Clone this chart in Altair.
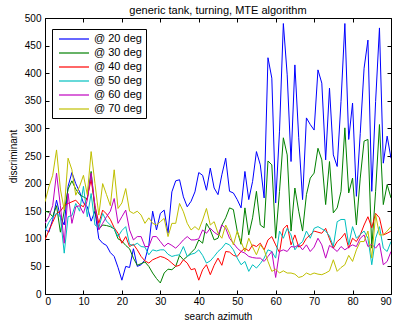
import altair as alt
import pandas as pd

azimuth = list(range(91))

s20 = [118, 112, 135, 170, 140, 125, 195, 220, 200, 185, 165, 158, 132, 150, 100, 92, 88, 75, 68, 48,
       25, 50, 48, 82, 50, 53, 62, 88, 150, 116, 146, 152, 110, 185, 205, 207, 176, 158, 168, 185,
       220, 215, 188, 228, 192, 180, 216, 246, 186, 183, 171, 156, 222, 171, 204, 258, 234, 174, 428, 391,
       165, 295, 490, 397, 240, 415, 283, 171, 319, 307, 297, 406, 382, 243, 373, 252, 231, 349, 490, 280,
       346, 177, 291, 409, 460, 186, 349, 482, 237, 286, 246]
s30 = [150, 148, 140, 160, 112, 150, 190, 205, 190, 180, 176, 172, 222, 150, 118, 125, 124, 122, 118, 100,
       96, 88, 82, 65, 52, 55, 58, 50, 38, 28, 20, 38, 45, 44, 50, 70, 62, 68, 75, 82,
       98, 92, 128, 116, 98, 101, 125, 138, 156, 153, 114, 90, 156, 107, 138, 186, 125, 120, 241, 234,
       101, 186, 283, 252, 114, 192, 150, 114, 180, 210, 219, 264, 243, 162, 240, 147, 156, 186, 301, 183,
       210, 125, 210, 277, 280, 83, 186, 307, 162, 198, 174]
s40 = [98, 115, 130, 146, 150, 160, 164, 167, 170, 162, 158, 175, 207, 160, 128, 152, 145, 135, 120, 110,
       92, 104, 86, 90, 80, 68, 60, 56, 62, 65, 68, 66, 62, 56, 50, 52, 62, 56, 44, 46,
       25, 44, 53, 35, 52, 65, 52, 77, 76, 70, 68, 77, 83, 78, 89, 86, 92, 80, 98, 104,
       89, 75, 118, 125, 89, 107, 85, 89, 101, 107, 114, 112, 110, 119, 100, 83, 95, 101, 110, 83,
       101, 95, 107, 125, 140, 120, 146, 138, 107, 110, 114]
s50 = [115, 130, 140, 146, 140, 74, 140, 142, 164, 150, 195, 140, 182, 125, 120, 146, 132, 125, 118, 104,
       115, 122, 90, 88, 92, 86, 85, 71, 80, 78, 80, 80, 72, 68, 70, 71, 86, 68, 72, 74,
       80, 70, 56, 60, 68, 77, 83, 92, 89, 80, 65, 53, 59, 41, 53, 47, 55, 65, 80, 77,
       65, 114, 101, 119, 107, 80, 89, 95, 114, 101, 119, 122, 118, 114, 105, 86, 131, 135, 135, 89,
       122, 101, 108, 114, 101, 53, 101, 122, 83, 77, 95]
s60 = [128, 140, 160, 219, 160, 92, 182, 128, 158, 160, 146, 170, 219, 160, 116, 128, 140, 150, 173, 128,
       140, 152, 116, 98, 104, 104, 86, 86, 104, 104, 95, 86, 92, 88, 83, 90, 98, 104, 98, 98,
       100, 116, 110, 119, 112, 107, 125, 119, 101, 92, 83, 77, 74, 68, 66, 65, 65, 59, 68, 77,
       30, 77, 80, 77, 86, 85, 89, 80, 89, 77, 85, 101, 89, 65, 88, 83, 77, 86, 80, 85,
       89, 86, 101, 107, 86, 90, 83, 92, 53, 59, 77]
s70 = [167, 194, 215, 261, 190, 152, 246, 225, 179, 195, 215, 180, 258, 200, 143, 200, 180, 160, 225, 155,
       165, 191, 150, 146, 150, 143, 128, 138, 128, 125, 131, 137, 104, 128, 128, 164, 149, 128, 116, 122,
       116, 134, 155, 125, 131, 110, 101, 125, 110, 89, 114, 95, 77, 101, 85, 71, 89, 80, 59, 41,
       45, 38, 42, 38, 38, 36, 30, 32, 38, 35, 38, 36, 35, 38, 42, 62, 41, 48, 53, 70,
       59, 80, 95, 95, 114, 65, 144, 107, 107, 114, 122]

labels = ["@ 20 deg", "@ 30 deg", "@ 40 deg", "@ 50 deg", "@ 60 deg", "@ 70 deg"]
colors = ["#0000ff", "#008000", "#ff0000", "#00bfbf", "#bf00bf", "#bfbf00"]
series = [s20, s30, s40, s50, s60, s70]
x_ticks = list(range(0, 91, 10))
y_ticks = list(range(0, 501, 50))

rows = []
for k, (lab, vals) in enumerate(zip(labels, series)):
    for a, v in zip(azimuth, vals):
        rows.append({"azimuth": a, "value": v, "series": lab, "order": k})
df = pd.DataFrame(rows)

W, H = 346, 276
FONT = "Liberation Sans"
x_scale = alt.Scale(domain=[0, 90], nice=False, zero=False)
y_scale = alt.Scale(domain=[0, 500], nice=False)

lines = alt.Chart(df).mark_line(strokeWidth=1, clip=True).encode(
    x=alt.X("azimuth:Q", scale=x_scale,
            axis=alt.Axis(orient="bottom", values=x_ticks, title="search azimuth",
                          ticks=False, domain=False, grid=False, labelPadding=2,
                          titlePadding=5, labelFontSize=10, titleFontSize=10,
                          labelFont=FONT, titleFont=FONT, titleFontWeight="normal",
                          labelColor="black", titleColor="black")),
    y=alt.Y("value:Q", scale=y_scale,
            axis=alt.Axis(orient="left", values=y_ticks, title="discriminant",
                          ticks=False, domain=False, grid=False, labelPadding=4,
                          titlePadding=6, labelFontSize=10, titleFontSize=10,
                          labelFont=FONT, titleFont=FONT, titleFontWeight="normal",
                          labelColor="black", titleColor="black")),
    color=alt.Color("series:N", scale=alt.Scale(domain=labels, range=colors),
                    legend=alt.Legend(title=None, orient="none", legendX=7, legendY=11,
                                      symbolType="M-3,0L3,0", symbolSize=100,
                                      symbolStrokeWidth=1.2, symbolOffset=12,
                                      labelOffset=14, labelFont=FONT, labelFontSize=11,
                                      labelColor="black", strokeColor="black",
                                      fillColor="white", padding=4, rowPadding=3,
                                      cornerRadius=0)),
    order=alt.Order("order:Q"),
)


def tick_layer(xorient, yorient):
    return alt.Chart(df).mark_point(opacity=0).encode(
        x=alt.X("azimuth:Q", scale=x_scale,
                axis=alt.Axis(orient=xorient, offset=-H, values=x_ticks, labels=False,
                              title=None, domain=False, grid=False, ticks=True,
                              tickSize=4, tickColor="black")),
        y=alt.Y("value:Q", scale=y_scale,
                axis=alt.Axis(orient=yorient, offset=-W, values=y_ticks, labels=False,
                              title=None, domain=False, grid=False, ticks=True,
                              tickSize=4, tickColor="black")),
    )


chart = alt.layer(
    lines, tick_layer("top", "right"), tick_layer("bottom", "left")
).resolve_axis(x="independent", y="independent").properties(
    width=W, height=H,
    title=alt.Title("generic tank, turning, MTE algorithm", font=FONT, fontSize=11,
                    fontWeight="normal", color="black", anchor="middle", offset=4, dy=7),
    padding={"left": 45, "top": 18, "right": 5, "bottom": 32},
    autosize=alt.AutoSizeParams(type="none"),
).configure_view(stroke="black", strokeWidth=1)

chart.save("out.html", embed_options={"renderer": "svg", "actions": False})
